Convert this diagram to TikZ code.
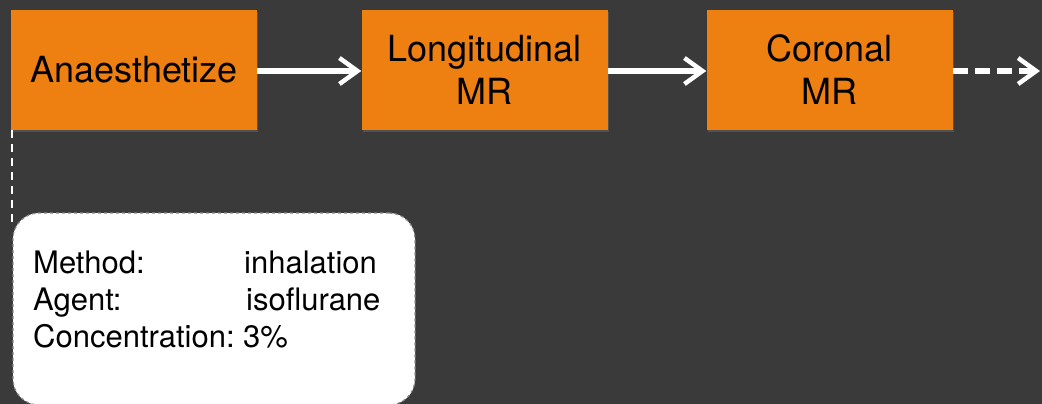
\documentclass[tikz,border=0pt]{standalone}
\usepackage{fontspec}
\setmainfont{TeX Gyre Heros}
\usetikzlibrary{arrows.meta,shadows}
\definecolor{bgdark}{HTML}{3A3A3A}
\definecolor{steporange}{HTML}{EE8012}
\definecolor{notegray}{HTML}{8A8A8A}
\begin{document}
\begin{tikzpicture}[x=1pt,y=-1pt,
  stepbox/.style={fill=steporange, minimum width=246pt, minimum height=120pt,
    inner sep=0pt, align=center, font=\fontsize{36}{43}\selectfont,
    drop shadow={shadow xshift=1pt, shadow yshift=-2pt, opacity=0.35}},
  flow/.style={draw=white, line width=6pt,
    -{Straight Barb[length=18pt,width=26pt,line width=4.5pt]}},
  notebox/.style={fill=white, draw=notegray, dashed, line width=1.2pt,
    rounded corners=26pt, minimum width=402pt, minimum height=192pt,
    inner sep=0pt},
  notetext/.style={anchor=base west, inner sep=0pt, font=\fontsize{31}{37}\selectfont}]
  % background
  \fill[bgdark] (0,0) rectangle (1042,404);
  \useasboundingbox (0,0) rectangle (1042,404);

  % process steps
  \node[stepbox] (anaes) at (134,70) {Anaesthetize};
  \node[stepbox] (longi) at (484.5,70) {Longitudinal\\MR};
  \node[stepbox] (coron) at (829.5,70) {Coronal\\MR};
  \coordinate (next) at (1040,71);

  \draw[flow] (anaes.east |- 0,71) -- (longi.west |- 0,71);
  \draw[flow] (longi.east |- 0,71) -- (coron.west |- 0,71);
  \draw[flow, dash pattern=on 15pt off 7pt] (coron.east |- 0,71) -- (next);

  % anaesthesia details
  \node[notebox] (note) at (214,309) {};
  \coordinate (tap) at (12,130);
  \draw[white, line width=1.8pt, dash pattern=on 8pt off 6pt] (tap) -- (12,227);

  \node[notetext] (m1) at (33,273) {Method:};
  \node[notetext] (m2) at (244,273) {inhalation};
  \node[notetext] (a1) at (33,310) {Agent:};
  \node[notetext] (a2) at (246,310) {isoflurane};
  \node[notetext] (c1) at (33,347) {Concentration:};
  \node[notetext] (c2) at (243,347) {3\%};
\end{tikzpicture}
\end{document}
